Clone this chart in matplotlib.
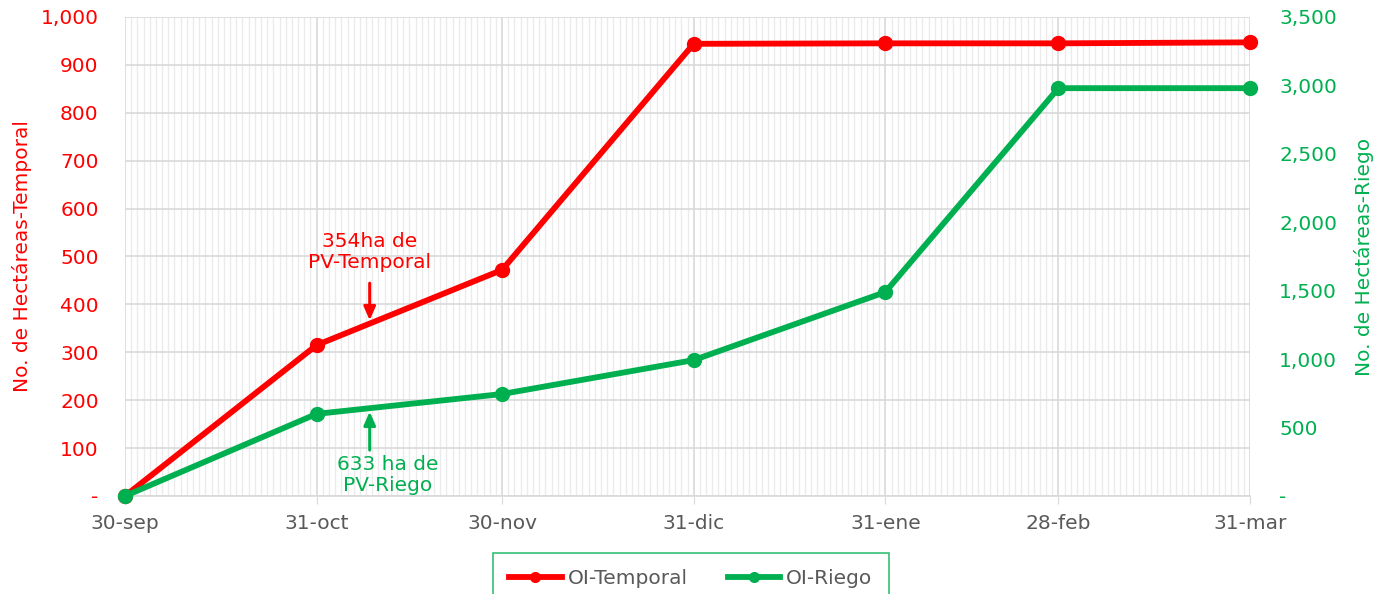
import datetime as dt
import matplotlib
matplotlib.use("Agg")
import matplotlib.pyplot as plt
import matplotlib.dates as mdates
from matplotlib.ticker import FuncFormatter, MultipleLocator

plt.rcParams['font.family'] = ['DejaVu Sans']

fechas = [dt.date(2022, 9, 30), dt.date(2022, 10, 31), dt.date(2022, 11, 30),
          dt.date(2022, 12, 31), dt.date(2023, 1, 31), dt.date(2023, 2, 28),
          dt.date(2023, 3, 31)]
etiquetas = ["30-sep", "31-oct", "30-nov", "31-dic", "31-ene", "28-feb", "31-mar"]
temporal = [0, 315, 472, 944, 945, 945, 947]
riego = [0, 600, 745, 993, 1490, 2980, 2980]

ROJO = "#FF0000"
VERDE = "#00B050"
GRIS = "#595959"
FS = 14.5


def fmt_miles(v, pos):
    if abs(v) < 1e-9:
        return "-"
    return f"{v:,.0f}"


def main():
    fig = plt.figure(figsize=(13.86, 5.94), dpi=100)
    ax = fig.add_axes([0.0902, 0.165, 0.8117, 0.8064])
    ax2 = ax.twinx()

    ax.plot(fechas, temporal, color=ROJO, lw=4.2, marker="o", ms=10,
            label="OI-Temporal", zorder=5, clip_on=False)
    ax2.plot(fechas, riego, color=VERDE, lw=4.2, marker="o", ms=10,
             label="OI-Riego", zorder=5, clip_on=False)

    ax.set_xlim(fechas[0], fechas[-1])
    ax.set_ylim(0, 1000)
    ax2.set_ylim(0, 3500)

    ax.set_xticks(fechas)
    ax.set_xticklabels(etiquetas)
    ax.xaxis.set_minor_locator(mdates.DayLocator())
    ax.yaxis.set_major_locator(MultipleLocator(100))
    ax2.yaxis.set_major_locator(MultipleLocator(500))
    ax.yaxis.set_major_formatter(FuncFormatter(fmt_miles))
    ax2.yaxis.set_major_formatter(FuncFormatter(fmt_miles))

    ax.grid(which="minor", axis="x", color="#ebebeb", lw=1)
    ax.grid(which="major", axis="x", color="#d9d9d9", lw=1.2)
    ax.grid(which="major", axis="y", color="#d9d9d9", lw=1.2)
    ax.set_axisbelow(True)

    for a in (ax, ax2):
        for s in a.spines.values():
            s.set_visible(False)
    ax.spines["bottom"].set_visible(True)
    ax.spines["bottom"].set_color("#d9d9d9")
    ax.spines["bottom"].set_linewidth(1.2)

    ax.tick_params(axis="x", which="major", colors="#d9d9d9", length=6,
                   labelcolor=GRIS, labelsize=FS, pad=7)
    ax.tick_params(axis="x", which="minor", length=0)
    ax.tick_params(axis="y", length=0, labelcolor=ROJO, labelsize=FS, pad=19)
    ax2.tick_params(axis="y", length=0, labelcolor=VERDE, labelsize=FS, pad=21)

    ax.set_ylabel("No. de Hectáreas-Temporal", color=ROJO, fontsize=FS, labelpad=6)
    ax2.set_ylabel("No. de Hectáreas-Riego", color=VERDE, fontsize=FS, labelpad=12)

    # anotaciones
    xa = mdates.date2num(dt.datetime(2022, 11, 8, 14))
    ax.annotate("", xy=(xa, 361), xytext=(xa, 450),
                arrowprops=dict(arrowstyle="-|>,head_length=0.8,head_width=0.35",
                                color=ROJO, lw=2.2), zorder=6)
    ax.text(xa, 509, "354ha de\nPV-Temporal", color=ROJO, fontsize=FS,
            ha="center", va="center", linespacing=1.15)
    ax.annotate("", xy=(xa, 182), xytext=(xa, 90),
                arrowprops=dict(arrowstyle="-|>,head_length=0.8,head_width=0.35",
                                color=VERDE, lw=2.2), zorder=6)
    xt = mdates.date2num(dt.datetime(2022, 11, 11, 12))
    ax.text(xt, 44, "633 ha de\nPV-Riego", color=VERDE, fontsize=FS,
            ha="center", va="center", linespacing=1.15)

    h1, l1 = ax.get_legend_handles_labels()
    h2, l2 = ax2.get_legend_handles_labels()
    leg = fig.legend(h1 + h2, l1 + l2, loc="upper center", ncol=2,
                     bbox_to_anchor=(0.4985, 0.069), frameon=True, fancybox=False,
                     fontsize=FS, handlelength=2.6, borderpad=0.8,
                     columnspacing=2.0, handletextpad=0.3, markerscale=0.7,
                     borderaxespad=0)
    leg.get_frame().set_edgecolor(VERDE)
    leg.get_frame().set_linewidth(1.2)
    for t in leg.get_texts():
        t.set_color(GRIS)

    fig.savefig("out.png", dpi=100)


if __name__ == "__main__":
    main()
